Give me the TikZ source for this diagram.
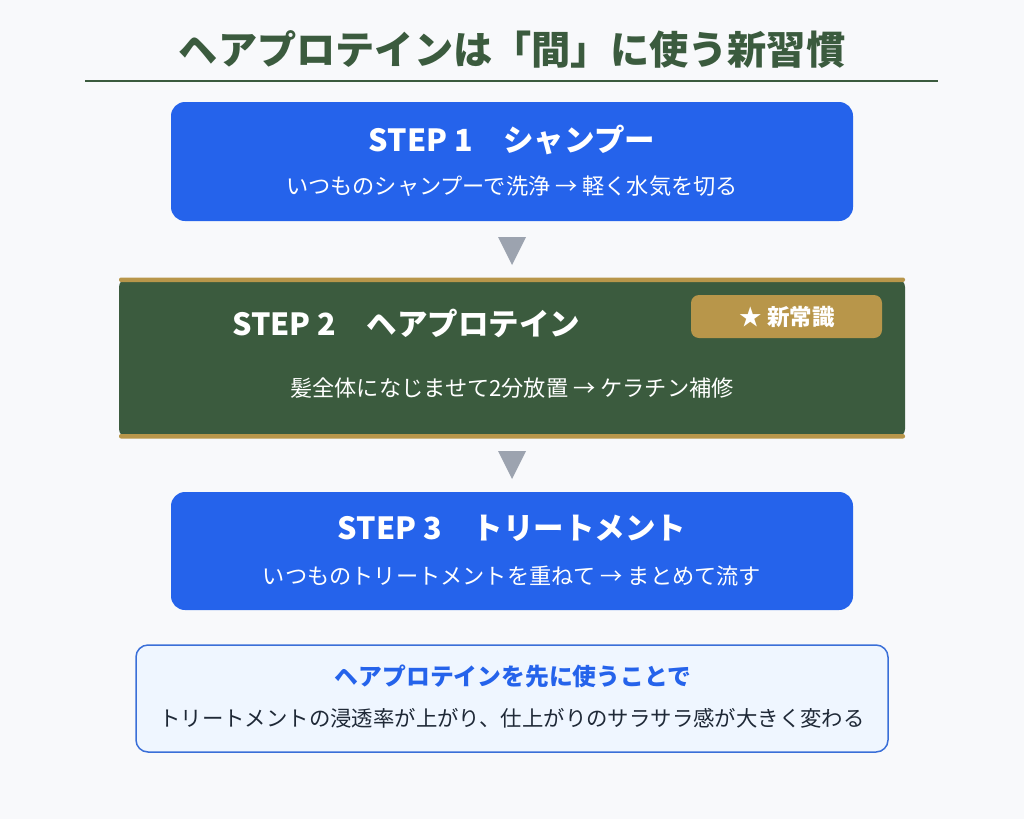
\documentclass[tikz,border=0pt]{standalone}
\usepackage{fontspec}
\setmainfont{Noto Sans CJK JP}
\definecolor{bg}{HTML}{F8F9FB}
\definecolor{dgreen}{HTML}{3B5B3E}
\definecolor{sblue}{HTML}{2563EB}
\definecolor{gold}{HTML}{B8964A}
\definecolor{tri}{HTML}{9CA3AF}
\definecolor{nbg}{HTML}{EFF6FF}
\definecolor{nborder}{HTML}{3A6FD8}
\definecolor{dtext}{HTML}{1F2937}
\tikzset{
  stepbox/.style={fill=sblue, draw=none, rounded corners=14pt},
  steptitle/.style={text=white, font=\fontsize{30.5}{34}\selectfont\bfseries, inner sep=0pt},
  stepsub/.style={text=white, font=\fontsize{22.2}{26}\selectfont, inner sep=0pt},
  downtri/.style={fill=tri, draw=none},
}
\begin{document}
\begin{tikzpicture}[x=1pt,y=-1pt]
\useasboundingbox (0,0) rectangle (1024,819);
\fill[bg] (0,0) rectangle (1024,819);
% title
\node[text=dgreen, font=\fontsize{39.2}{44}\selectfont\bfseries, inner sep=0pt] (title) at (512,50) {ヘアプロテインは「間」に使う新習慣};
\coordinate (tl) at (85,81);
\coordinate (tr) at (938,81);
\draw[dgreen, line width=2pt] (tl) -- (tr);
% step 1
\path[stepbox] (171,102) rectangle (853,221);
\node[steptitle] (s1t) at (512,140) {STEP 1　シャンプー};
\node[stepsub] (s1s) at (512,186) {いつものシャンプーで洗浄 → 軽く水気を切る};
% triangle 1
\fill[downtri] (498,237) -- (526,237) -- (512,265) -- cycle;
% step 2
\fill[dgreen, rounded corners=8pt] (119,279) rectangle (905,437);
\fill[gold, rounded corners=2pt] (119,277.5) rectangle (905,282);
\fill[gold, rounded corners=2pt] (119,434) rectangle (905,438.5);
\node[steptitle, anchor=west] (s2t) at (232,323) {STEP 2　ヘアプロテイン};
\fill[gold, rounded corners=8pt] (691,295) rectangle (882,338);
\node[text=white, font=\fontsize{22.5}{26}\selectfont\bfseries, inner sep=0pt] (badge) at (787,317) {★ 新常識};
\node[stepsub] (s2s) at (512,388) {髪全体になじませて2分放置 → ケラチン補修};
% triangle 2
\fill[downtri] (498,451) -- (526,451) -- (512,479) -- cycle;
% step 3
\path[stepbox] (171,492) rectangle (853,610);
\node[steptitle] (s3t) at (512,528) {STEP 3　トリートメント};
\node[stepsub] (s3s) at (512,576) {いつものトリートメントを重ねて → まとめて流す};
% note
\draw[fill=nbg, draw=nborder, line width=1.5pt, rounded corners=12pt] (136,645) rectangle (888,752);
\node[text=sblue, font=\fontsize{23.8}{28}\selectfont\bfseries, inner sep=0pt] (n1) at (513,676) {ヘアプロテインを先に使うことで};
\node[text=dtext, font=\fontsize{21.4}{25}\selectfont, inner sep=0pt] (n2) at (512,718) {トリートメントの浸透率が上がり、仕上がりのサラサラ感が大きく変わる};
\end{tikzpicture}
\end{document}
